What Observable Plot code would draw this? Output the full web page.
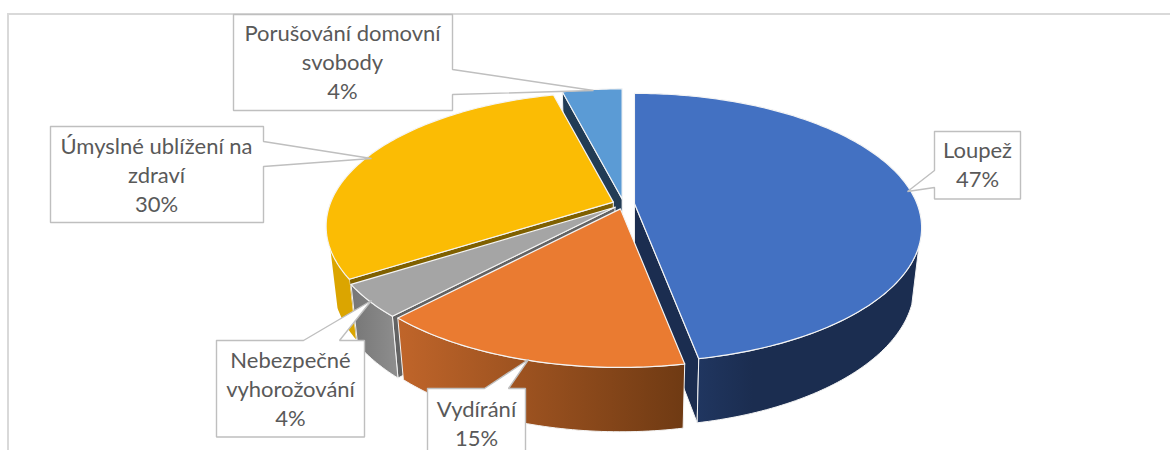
<!DOCTYPE html>
<html><head><meta charset="utf-8">
<script src="https://cdn.jsdelivr.net/npm/d3@7"></script>
<script src="https://cdn.jsdelivr.net/npm/@observablehq/plot@0.6"></script>
<style>html,body{margin:0;padding:0;background:#fff;overflow:hidden}svg{display:block}</style>
</head><body><div id="chart"></div>
<script>
const categories = ["Loupež", "Vydírání", "Nebezpečné vyhorožování", "Úmyslné ublížení na zdraví", "Porušování domovní svobody"];
const values = [47, 15, 4, 30, 4];
const labelLines = [["Loupež"], ["Vydírání"], ["Nebezpečné", "vyhorožování"], ["Úmyslné ublížení na", "zdraví"], ["Porušování domovní", "svobody"]];
const topColors = ["#4371c2", "#ea7b31", "#a5a5a5", "#fbbc04", "#5b9bd5"];
const radialWallColors = ["#1b2d50", "none", "#636363", "#7f6000", "#223c55"];
const outerWallFills = ["url(#wall0)", "url(#wall1)", "url(#wall2)", "url(#wall3)", "none"];

// Perspective pie geometry
const R = 282.5, Ry = 130, k = 0.18, depth = 56, f = 0.975, explode = 11, cx = 623, cy = 203.5;
const total = d3.sum(values);
const rad = d => d * Math.PI / 180;
let acc = 0;
const slices = values.map((v, i) => {
  const a0 = acc / total * 360; acc += v; const a1 = acc / total * 360;
  const mid = rad((a0 + a1) / 2);
  const X = explode * Math.sin(mid), Y = explode * Math.cos(mid);
  const s = 1 / (1 + k * Y / R);
  return {i, a0, a1, ax: cx + X * s, ay: cy - Y * (Ry / R) * s};
});
function topPt(sl, deg) {
  const X = Math.sin(rad(deg)), Y = Math.cos(rad(deg)), s = 1 / (1 + k * Y);
  return {x: sl.ax + R * X * s, y: sl.ay - Ry * Y * s, s};
}
function lowPt(sl, deg) {
  const p = topPt(sl, deg);
  return {x: sl.ax + f * (p.x - sl.ax), y: sl.ay + f * (p.y - sl.ay) + depth * p.s};
}
const apexTop = sl => ({x: sl.ax, y: sl.ay});
const apexLow = sl => ({x: sl.ax, y: sl.ay + depth});
function arc(sl, fn, a, b) {
  const n = Math.max(2, Math.ceil(Math.abs(b - a)));
  return d3.range(n + 1).map(j => fn(sl, a + (b - a) * j / n));
}
const poly = (pts, o) => Plot.line([...pts, pts[0]], {x: "x", y: "y", strokeLinejoin: "round", ...o});

function topMark(sl) {
  return poly([apexTop(sl), ...arc(sl, topPt, sl.a0, sl.a1)], {fill: topColors[sl.i], stroke: "#f4f4f4", strokeWidth: 1.2});
}
function radialWall(sl) {
  if (radialWallColors[sl.i] === "none") return null;
  const edge = sl.i === 0 ? sl.a1 : sl.a0; // the cut face that looks towards the viewer
  return poly([apexTop(sl), topPt(sl, edge), lowPt(sl, edge), apexLow(sl)], {fill: radialWallColors[sl.i], stroke: "#f4f4f4", strokeWidth: 1});
}
function outerWall(sl) {
  if (outerWallFills[sl.i] === "none") return null;
  const lo = sl.i === 0 ? 108 : sl.a0;
  const hi = sl.i === 3 ? 250 : sl.a1;
  return poly([...arc(sl, topPt, lo, hi), ...arc(sl, lowPt, hi, lo)], {fill: outerWallFills[sl.i], stroke: sl.i === 3 ? "none" : "#f4f4f4", strokeWidth: 1});
}
const order = [4, 3, 0, 2, 1];
const pieMarks = order.flatMap(i => {
  const sl = slices[i];
  return [radialWall(sl), outerWall(sl), topMark(sl)];
}).filter(Boolean);

// Callouts
const rect = (x0, y0, x1, y1, extra, side) => {
  const [b0, b1, tip] = extra;
  if (side === "right") return [{x:x0,y:y0},{x:x1,y:y0},{x:x1,y:b0},tip,{x:x1,y:b1},{x:x1,y:y1},{x:x0,y:y1}];
  if (side === "left") return [{x:x0,y:y0},{x:x1,y:y0},{x:x1,y:y1},{x:x0,y:y1},{x:x0,y:b1},tip,{x:x0,y:b0}];
  return [{x:x0,y:y0},{x:b0,y:y0},tip,{x:b1,y:y0},{x:x1,y:y0},{x:x1,y:y1},{x:x0,y:y1}];
};
const callouts = [
  {i: 0, box: rect(934, 131, 1020, 198.5, [170, 187, {x:907, y:191}], "left"), tx: 977, ty: 163},
  {i: 1, box: rect(427, 388, 525, 456, [484, 508, {x:528, y:359}], "top"), tx: 476, ty: 422},
  {i: 2, box: rect(216, 340, 364, 436.5, [303, 339, {x:371, y:300}], "top"), tx: 290, ty: 387.5},
  {i: 3, box: rect(50, 126, 263, 222, [141, 166, {x:371, y:158}], "right"), tx: 156, ty: 173},
  {i: 4, box: rect(233, 14, 452, 110, [69, 94, {x:593, y:90}], "right"), tx: 342, ty: 60.5}
];
const labelText = i => [...labelLines[i], values[i] + "%"].join("\n");

const plot = Plot.plot({
  width: 1170, height: 450,
  margin: 0,
  x: {domain: [0, 1170], range: [0, 1170], axis: null},
  y: {domain: [0, 450], range: [0, 450], axis: null},
  style: {background: "#fff"},
  marks: [
    Plot.ruleX([7.5], {y1: 13, y2: 450, stroke: "#d9d9d9", strokeWidth: 2}),
    Plot.ruleY([13.5], {x1: 7, x2: 1170, stroke: "#d9d9d9", strokeWidth: 2}),
    ...pieMarks,
    ...callouts.map(c => poly(c.box, {fill: "#fff", stroke: "#bfbfbf", strokeWidth: 1.4, strokeLinejoin: "miter"})),
    Plot.text(callouts, {
      x: "tx", y: "ty", text: d => labelText(d.i),
      fill: "#595959", fontFamily: "Lato", fontSize: 22, lineHeight: 1.32, textAnchor: "middle", lineAnchor: "middle"
    })
  ]
});
plot.insertAdjacentHTML("afterbegin", `<defs>
<linearGradient id="wall0"><stop offset="0" stop-color="#203660"/><stop offset="0.25" stop-color="#1b2d50"/><stop offset="1" stop-color="#1b2d50"/></linearGradient>
<linearGradient id="wall1"><stop offset="0" stop-color="#c0652a"/><stop offset="1" stop-color="#6f3a13"/></linearGradient>
<linearGradient id="wall2"><stop offset="0" stop-color="#767676"/><stop offset="1" stop-color="#8e8e8e"/></linearGradient>
<linearGradient id="wall3"><stop offset="0" stop-color="#dba500"/><stop offset="1" stop-color="#dba500"/></linearGradient>
</defs>`);
document.getElementById("chart").appendChild(plot);
</script>
</body></html>
